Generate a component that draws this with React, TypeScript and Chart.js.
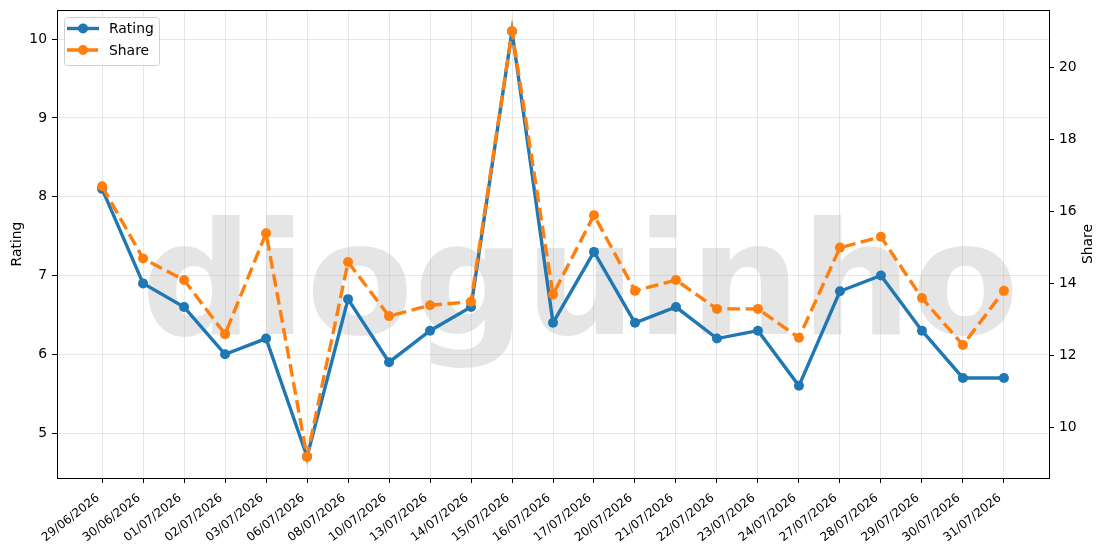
import { useEffect, useRef } from 'react';
import { Chart, registerables } from 'chart.js';

Chart.register(...registerables);

const dates = [
  '29/06/2026', '30/06/2026', '01/07/2026', '02/07/2026', '03/07/2026', '06/07/2026',
  '08/07/2026', '10/07/2026', '13/07/2026', '14/07/2026', '15/07/2026', '16/07/2026',
  '17/07/2026', '20/07/2026', '21/07/2026', '22/07/2026', '23/07/2026', '24/07/2026',
  '27/07/2026', '28/07/2026', '29/07/2026', '30/07/2026', '31/07/2026',
];
const rating = [8.1, 6.9, 6.6, 6.0, 6.2, 4.7, 6.7, 5.9, 6.3, 6.6, 10.1, 6.4, 7.3, 6.4, 6.6, 6.2, 6.3, 5.6, 6.8, 7.0, 6.3, 5.7, 5.7];
const share = [16.7, 14.7, 14.1, 12.6, 15.4, 9.2, 14.6, 13.1, 13.4, 13.5, 21.0, 13.7, 15.9, 13.8, 14.1, 13.3, 13.3, 12.5, 15.0, 15.3, 13.6, 12.3, 13.8];
const ratingTicks = [5, 6, 7, 8, 9, 10];
const shareTicks = [10, 12, 14, 16, 18, 20];
const seriesNames = ['Rating', 'Share'];
const watermarkText = 'dioguinho';

const BLUE = '#1f77b4';
const ORANGE = '#ff7f0e';
const GRID = 'rgba(176,176,176,0.3)';
const FONT = 'DejaVu Sans';
const DASH = [12.8, 5.5];
const LW = 3.4;

const zeroPad = (s: any) => {
  s.paddingTop = 0;
  s.paddingBottom = 0;
  s.paddingLeft = 0;
  s.paddingRight = 0;
};

const watermarkPlugin = {
  id: 'watermark',
  beforeDraw(chart: any) {
    const { ctx, chartArea } = chart;
    ctx.save();
    ctx.font = `bold 156px "${FONT}"`;
    ctx.fillStyle = 'rgba(0,0,0,0.1)';
    ctx.textAlign = 'center';
    ctx.textBaseline = 'alphabetic';
    ctx.fillText(watermarkText, chartArea.left + 523, chartArea.top + 324);
    ctx.restore();
  },
};

const framePlugin = {
  id: 'frame',
  afterDatasetsDraw(chart: any) {
    const { ctx, chartArea } = chart;
    ctx.save();
    ctx.strokeStyle = '#000';
    ctx.lineWidth = 1;
    ctx.strokeRect(chartArea.left + 0.5, chartArea.top + 0.5, chartArea.right - chartArea.left, chartArea.bottom - chartArea.top);
    ctx.restore();
  },
  afterDraw(chart: any) {
    const { ctx, chartArea } = chart;
    // right axis title, reading bottom to top
    ctx.save();
    ctx.translate(chartArea.right + 39, (chartArea.top + chartArea.bottom) / 2);
    ctx.rotate(-Math.PI / 2);
    ctx.fillStyle = '#000';
    ctx.font = `13.9px "${FONT}"`;
    ctx.textAlign = 'center';
    ctx.textBaseline = 'middle';
    ctx.fillText(seriesNames[1], 0, 0);
    ctx.restore();

    // legend
    const x0 = chartArea.left + 7;
    const y0 = chartArea.top + 7;
    const w = 95;
    const h = 48;
    ctx.save();
    ctx.beginPath();
    if (ctx.roundRect) ctx.roundRect(x0 + 0.5, y0 + 0.5, w, h, 3);
    else ctx.rect(x0 + 0.5, y0 + 0.5, w, h);
    ctx.fillStyle = 'rgba(255,255,255,0.8)';
    ctx.fill();
    ctx.strokeStyle = '#d0d0d0';
    ctx.lineWidth = 1;
    ctx.stroke();
    const colors = [BLUE, ORANGE];
    const rows = [y0 + 11.5, y0 + 33];
    seriesNames.forEach((name, i) => {
      const y = rows[i];
      ctx.beginPath();
      ctx.strokeStyle = colors[i];
      ctx.lineWidth = LW;
      ctx.setLineDash(i === 1 ? DASH : []);
      ctx.moveTo(x0 + 3, y);
      ctx.lineTo(x0 + 35, y);
      ctx.stroke();
      ctx.setLineDash([]);
      ctx.beginPath();
      ctx.fillStyle = colors[i];
      ctx.arc(x0 + 19, y, 5, 0, Math.PI * 2);
      ctx.fill();
      ctx.fillStyle = '#000';
      ctx.font = `13.9px "${FONT}"`;
      ctx.textAlign = 'left';
      ctx.textBaseline = 'middle';
      ctx.fillText(name, x0 + 45, y + 1);
    });
    ctx.restore();
  },
};

export default function App() {
  const ref = useRef<HTMLCanvasElement | null>(null);

  useEffect(() => {
    if (!ref.current) return;
    Chart.defaults.font.family = FONT;
    const tickFont = { family: FONT, size: 13.9 };
    const chart = new Chart(ref.current, {
      type: 'line',
      data: {
        datasets: [
          {
            label: seriesNames[0],
            data: rating.map((v, i) => ({ x: i, y: v })),
            yAxisID: 'y',
            borderColor: BLUE,
            backgroundColor: BLUE,
            borderWidth: LW,
            pointRadius: 5,
            pointHoverRadius: 5,
            pointBorderWidth: 0,
            tension: 0,
            order: 1,
          },
          {
            label: seriesNames[1],
            data: share.map((v, i) => ({ x: i, y: v })),
            yAxisID: 'y1',
            borderColor: ORANGE,
            backgroundColor: ORANGE,
            borderWidth: LW,
            borderDash: DASH,
            pointRadius: 5,
            pointHoverRadius: 5,
            pointBorderWidth: 0,
            tension: 0,
            order: 0,
          },
        ],
      },
      options: {
        animation: false,
        responsive: true,
        maintainAspectRatio: false,
        layout: { padding: { top: 10, left: 0, right: 0, bottom: 0 } },
        plugins: { legend: { display: false }, tooltip: { enabled: false } },
        scales: {
          x: {
            type: 'linear',
            min: -1.1,
            max: 23.1,
            afterBuildTicks: (s: any) => { s.ticks = dates.map((_, i) => ({ value: i })); },
            afterFit: (s: any) => { s.height = 76; zeroPad(s); },
            ticks: {
              autoSkip: false,
              minRotation: 38,
              maxRotation: 38,
              padding: 8,
              labelOffset: -4,
              color: '#000',
              font: { family: FONT, size: 12 },
              callback: (v: any) => dates[v] ?? '',
            },
            grid: { color: GRID, lineWidth: 1, tickColor: '#000', tickLength: 5, tickWidth: 1 },
            border: { display: true, color: '#000', width: 1 },
          },
          y: {
            type: 'linear',
            position: 'left',
            min: 4.43,
            max: 10.37,
            afterBuildTicks: (s: any) => { s.ticks = ratingTicks.map((v) => ({ value: v })); },
            afterFit: (s: any) => { s.width = 57; zeroPad(s); },
            ticks: { color: '#000', font: tickFont, padding: 5 },
            title: { display: true, text: seriesNames[0], color: '#000', font: tickFont, padding: { top: 9, bottom: 0 } },
            grid: { color: GRID, lineWidth: 1, tickColor: '#000', tickLength: 5, tickWidth: 1 },
            border: { display: true, color: '#000', width: 1 },
          },
          y1: {
            type: 'linear',
            position: 'right',
            min: 8.61,
            max: 21.59,
            afterBuildTicks: (s: any) => { s.ticks = shareTicks.map((v) => ({ value: v })); },
            afterFit: (s: any) => { s.width = 56; zeroPad(s); },
            ticks: { color: '#000', font: tickFont, padding: 5 },
            title: { display: false },
            grid: { drawOnChartArea: false, tickColor: '#000', tickLength: 5, tickWidth: 1 },
            border: { display: true, color: '#000', width: 1 },
          },
        },
      },
      plugins: [watermarkPlugin, framePlugin],
    } as any);
    return () => chart.destroy();
  }, []);

  return (
    <div style={{ position: 'fixed', left: 0, top: 0, width: 1105, height: 554, background: '#fff' }}>
      <canvas ref={ref} />
    </div>
  );
}
